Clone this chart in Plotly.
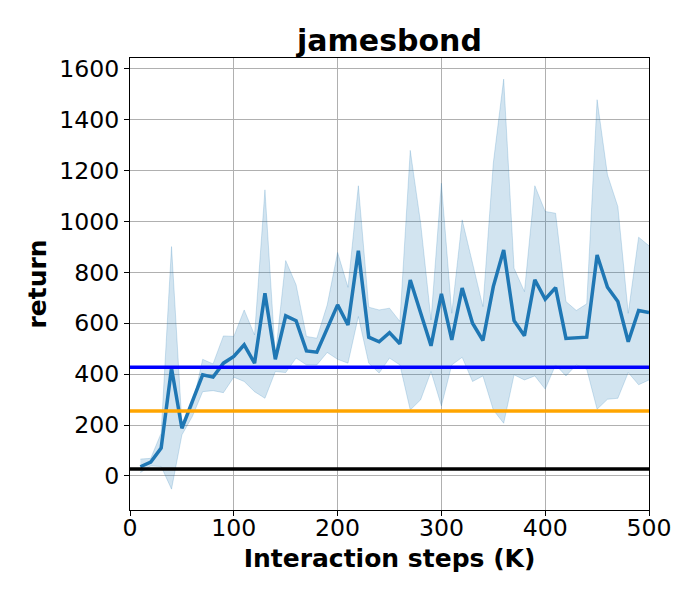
import plotly.graph_objects as go

# steps in thousands
steps = list(range(10, 510, 10))

mean_return = [36, 54, 109, 423, 187, 292, 397, 388, 443, 469,
               515, 443, 718, 458, 629, 610, 491, 486, 580, 672,
               593, 885, 545, 527, 563, 519, 770, 639, 511, 715,
               534, 738, 600, 532, 744, 888, 610, 551, 770, 694,
               740, 540, 542, 545, 868, 741, 685, 527, 650, 642]

upper_return = [66, 69, 168, 901, 207, 272, 458, 440, 550, 548,
                652, 554, 1124, 470, 846, 751, 548, 541, 672, 878,
                741, 1140, 663, 652, 659, 607, 1279, 993, 613, 1150,
                639, 1006, 836, 665, 1229, 1559, 816, 724, 1140, 1039,
                1032, 685, 650, 676, 1478, 1183, 1058, 639, 938, 904]

lower_return = [13, 39, 37, -52, 161, 233, 331, 335, 327, 388,
                371, 331, 305, 410, 406, 463, 436, 436, 485, 458,
                443, 626, 443, 404, 463, 436, 259, 299, 410, 275,
                436, 466, 371, 393, 259, 207, 397, 377, 393, 341,
                436, 393, 436, 419, 262, 301, 305, 406, 358, 377]

# reference levels
blue_level = 427
orange_level = 255
black_level = 27

FONT = "DejaVu Sans"
band_color = "rgba(31,119,180,0.2)"

fig = go.Figure()

fig.add_trace(go.Scatter(x=steps, y=lower_return, mode="lines",
                         line=dict(color=band_color, width=1),
                         showlegend=False, hoverinfo="skip"))
fig.add_trace(go.Scatter(x=steps, y=upper_return, mode="lines",
                         line=dict(color=band_color, width=1),
                         fill="tonexty", fillcolor=band_color,
                         showlegend=False, hoverinfo="skip"))
fig.add_trace(go.Scatter(x=steps, y=mean_return, mode="lines",
                         line=dict(color="#1f77b4", width=3.5),
                         showlegend=False))

for level, color in [(blue_level, "#0000ff"), (orange_level, "#ffa500"), (black_level, "#000000")]:
  fig.add_hline(y=level, line=dict(color=color, width=3.5), layer="above")

axis_style = dict(showline=True, linecolor="black", linewidth=1, mirror=True,
                  showgrid=True, gridcolor="#b0b0b0", gridwidth=1,
                  ticks="outside", ticklen=5, tickcolor="black", tickwidth=1,
                  zeroline=False, tickfont=dict(family=FONT, size=23.6, color="black"))

fig.update_xaxes(range=[0, 500], tickvals=[0, 100, 200, 300, 400, 500],
                 ticklabelstandoff=-8,
                 title=dict(text="Interaction steps (K)", standoff=8,
                            font=dict(family=FONT, size=25, color="black", weight="bold")),
                 **axis_style)
fig.update_yaxes(range=[-134, 1642], tickvals=[0, 200, 400, 600, 800, 1000, 1200, 1400, 1600],
                 title=dict(text="return", standoff=5,
                            font=dict(family=FONT, size=25, color="black", weight="bold")),
                 **axis_style)

# the page body adds 8px, so margins are shifted to put the axes where the reference has them
fig.update_layout(width=700, height=600,
                  margin=dict(l=122, r=59, t=50, b=98),
                  plot_bgcolor="white", paper_bgcolor="white",
                  title=dict(text="jamesbond", x=0.5, xref="paper", xanchor="center",
                             y=1, yref="paper", yanchor="bottom", pad=dict(b=7),
                             font=dict(family=FONT, size=30, color="black", weight="bold")))

fig.write_html("out.html")
